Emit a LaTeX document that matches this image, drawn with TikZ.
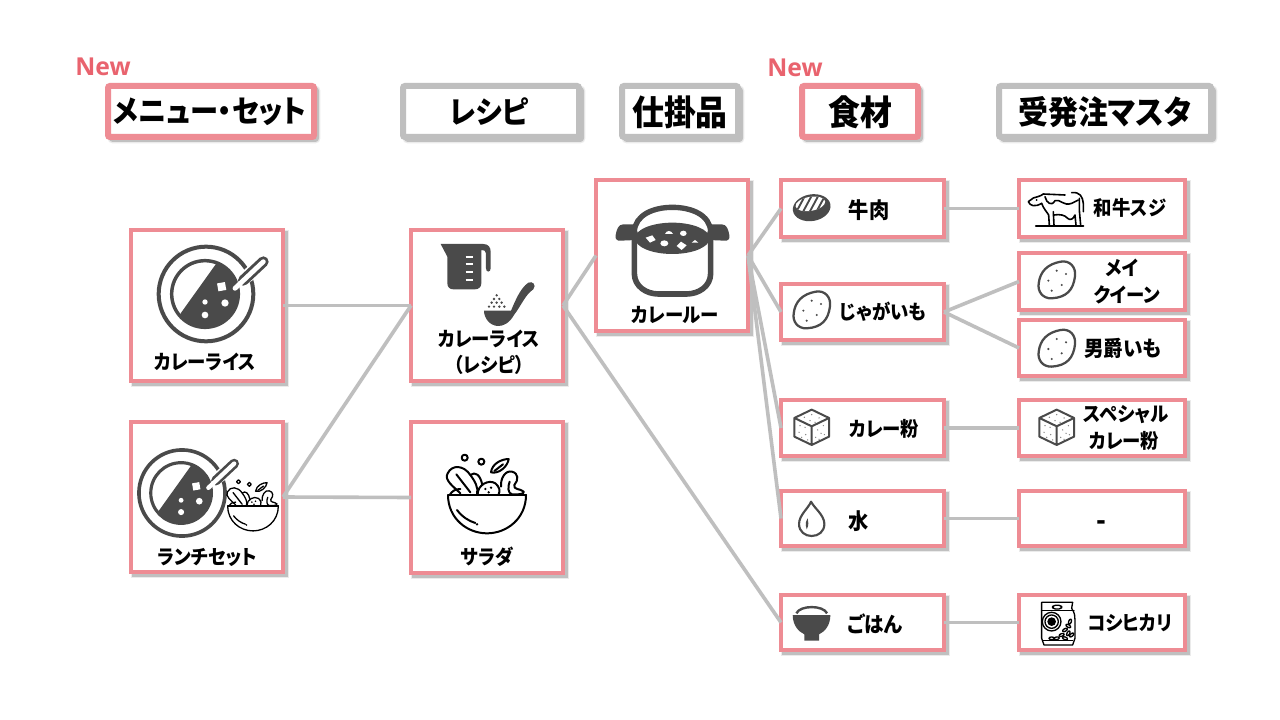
\documentclass[tikz,border=0pt]{standalone}
\usepackage{fontspec}
\setmainfont{Noto Sans CJK JP}[RawFeature=+palt,FakeStretch=0.92]
\newfontfamily\latinb{Open Sans}
\definecolor{pinkb}{HTML}{EE8C94}
\definecolor{grayb}{HTML}{BFBFBF}
\definecolor{newc}{HTML}{E9636E}
\definecolor{dk}{HTML}{4A4A4A}
\tikzset{
 basebox/.style={rectangle,fill=white,inner sep=0pt,outer sep=0pt,line width=3pt,
   preaction={draw=black,draw opacity=.08,fill=none,line width=5pt,transform canvas={shift={(3,3)}}},
   preaction={draw=black,draw opacity=.18,fill=none,line width=3pt,transform canvas={shift={(3,3)}}}},
 pinkbox/.style={basebox,draw=pinkb},
 headpink/.style={basebox,draw=pinkb,line width=4.5pt,rounded corners=1.5pt},
 headgray/.style={basebox,draw=grayb,line width=4.5pt,rounded corners=1.5pt},
 lab/.style={font=\bfseries\fontsize{15}{18}\selectfont,inner sep=0pt,text=black},
 labk/.style={lab,font=\bfseries\fontsize{16.5}{20}\selectfont},
 headlab/.style={font=\bfseries\fontsize{23}{28}\selectfont,inner sep=0pt,text=black},
 headk/.style={headlab,font=\bfseries\fontsize{26}{30}\selectfont},
 newlab/.style={font=\latinb\bfseries\fontsize{18.5}{22}\selectfont,inner sep=0pt,text=newc},
 conn/.style={draw=grayb,line width=2.7pt},
 ln/.style={draw=black,line width=1.4pt,line cap=round,line join=round},
 ld/.style={draw=dk,line width=1.9pt,line cap=round,line join=round},
}
\newcommand\bx[6][pinkbox]{%
 \pgfmathsetmacro\cxx{(#3+#5)/2}\pgfmathsetmacro\cyy{(#4+#6)/2}%
 \node[#1,minimum width={(#5-#3)*.75pt},minimum height={(#6-#4)*.75pt}] (#2) at (\cxx,\cyy) {};}
\newcommand\curry[3]{\begin{scope}[shift={(#1,#2)},scale=.3333*#3]
 \draw[dk,line width=#3*3pt] (0,0) circle (142);
 \begin{scope}\clip (-3,0) circle (100);
  \fill[dk] (37,-100) -- (-76,58) -- (-76,200) -- (200,200) -- (200,-100) -- cycle;
 \end{scope}
 \draw[dk,line width=#3*2.6pt] (-3,0) circle (100);
 \draw[white,line width=#3*10pt,line cap=round] (125,-55) -- (172,-97);
 \draw[dk,line width=#3*8pt,line cap=round] (112,-41) -- (172,-97);
 \draw[white,line width=#3*3.6pt,line cap=round] (87,-17) -- (172,-97);
 \fill[white,rotate around={10:(47,-22)}] (35,-34) rectangle (59,-10);
 \fill[white] (-3,24) circle (8) (57,27) circle (11) (-3,63) circle (10);
\end{scope}}
\newcommand\salad[3]{\begin{scope}[shift={(#1,#2)},scale=.3333*#3,draw=black,line width=#3*1.5pt,line cap=round,line join=round]
 \draw (-117,0) -- (117,0);
 \draw (-117,0) .. controls (-117,70) and (-60,115) .. (0,115) .. controls (60,115) and (117,70) .. (117,0);
 \draw (-90,45) .. controls (-75,65) and (-55,78) .. (-35,84);
 \fill (-30,88) circle (4);
 \draw (-80,-5) .. controls (-100,-25) and (-130,-45) .. (-118,-65) .. controls (-105,-92) and (-70,-90) .. (-50,-60) .. controls (-35,-40) and (-25,-20) .. (-30,-3);
 \draw (-92,-62) -- (-50,-8);
 \draw (-50,-60) .. controls (-35,-72) and (-20,-60) .. (-14,-30);
 \draw (-112,0) .. controls (-105,-12) and (-95,-18) .. (-80,-18);
 \draw (-28,-3) .. controls (-28,-30) and (5,-48) .. (25,-35) .. controls (38,-25) and (40,-10) .. (35,-3);
 \fill (-5,-18) circle (4) (12,-22) circle (4) (5,-8) circle (4);
 \draw (42,-25) .. controls (40,-50) and (55,-75) .. (75,-70) .. controls (95,-65) and (95,-45) .. (82,-30) .. controls (78,-15) and (100,-20) .. (110,-10);
 \draw (110,-10) .. controls (112,-5) and (100,0) .. (75,-2) .. controls (62,-5) and (62,-25) .. (68,-40);
 \draw (12,-68) .. controls (15,-95) and (45,-108) .. (65,-108) .. controls (62,-85) and (35,-62) .. (12,-68);
 \draw (22,-72) -- (48,-92);
 \draw (-67,-112) circle (9) (-17,-100) circle (9);
\end{scope}}
\newcommand\potato[2]{\begin{scope}[shift={(#1,#2)},scale=.3333]
 \draw[ld,line width=1.7pt] (12,-55) .. controls (40,-60) and (58,-38) .. (55,-12) .. controls (50,30) and (30,52) .. (-15,55) .. controls (-42,56) and (-58,35) .. (-54,10) .. controls (-50,-25) and (-28,-48) .. (12,-55) -- cycle;
 \fill[dk] (0,-28) circle (3.5) (28,-18) circle (3.5) (-25,2) circle (3.5) (15,15) circle (3.5) (-15,32) circle (3.5);
\end{scope}}
\newcommand\cube[2]{\begin{scope}[shift={(#1,#2)},scale=.3333]
 \draw[ld,line width=1.5pt] (0,-53) -- (52,-28) -- (52,28) -- (0,53) -- (-52,28) -- (-52,-28) -- cycle (-52,-28) -- (0,-3) -- (52,-28) (0,-3) -- (0,53);
 \foreach \p in {(-22,-30),(0,-38),(22,-28),(-5,-20),(10,-15),(-35,-5),(-20,0),(-38,15),(-18,22),(-30,30),(-12,38),(18,8),(35,-5),(28,18),(12,30),(38,22),(22,36)}
  \fill[gray] \p circle (2.2);
\end{scope}}
\begin{document}
\begin{tikzpicture}[x=.75pt,y=-.75pt]
\useasboundingbox (0,0) rectangle (1280,720);
\fill[white] (0,0) rectangle (1280,720);
% headers
\bx[headpink]{hm}{108}{86}{314}{137}
\bx[headgray]{hr}{403}{86}{579}{137}
\bx[headgray]{hw}{622}{86}{738}{137}
\bx[headpink]{hf}{802}{86}{918}{137}
\bx[headgray]{ho}{999}{86}{1211}{137}
\node[newlab] (n1) at (103,67) {New};
\node[newlab] (n2) at (795,68) {New};
\node[headlab] (thm) at (210,112) {メニュー・セット};
\node[headlab] (thr) at (489,112) {レシピ};
\node[headk] (thw) at (680,112) {仕掛品};
\node[headk] (thf) at (860,112) {食材};
\node[headlab,font=\bfseries\fontsize{24.4}{28}\selectfont] (tho) at (1105,112) {受発注マスタ};
% boxes
\bx{curry}{131}{230}{283}{381}
\bx{lunch}{131}{422}{283}{572}
\bx{recipe}{411}{230}{563}{381}
\bx{sal}{411}{422}{563}{573}
\bx{roux}{596}{180}{748}{331}
\bx{beef}{781}{180}{944}{237}
\bx{pot}{781}{284}{944}{340}
\bx{powd}{781}{400}{944}{456}
\bx{water}{781}{491}{944}{546}
\bx{rice}{781}{595}{944}{650}
\bx{wagyu}{1019}{180}{1185}{237}
\bx{may}{1019}{253}{1185}{310}
\bx{dan}{1019}{320}{1185}{376}
\bx{spc}{1019}{400}{1185}{456}
\bx{non}{1019}{491}{1185}{546}
\bx{koshi}{1019}{595}{1185}{650}
% connectors
\draw[conn] (curry.east) -- (recipe.west);
\draw[conn] (lunch.east) -- (recipe.west);
\draw[conn] (lunch.east) -- (sal.west);
\draw[conn] (recipe.east) -- (roux.west);
\draw[conn] (recipe.east) -- (rice.west);
\draw[conn] (roux.east) -- (beef.west);
\draw[conn] (roux.east) -- (pot.west);
\draw[conn] (roux.east) -- (powd.west);
\draw[conn] (roux.east) -- (water.west);
\draw[conn] (beef.east) -- (wagyu.west);
\draw[conn] (pot.east) -- (may.west);
\draw[conn] (pot.east) -- (dan.west);
\draw[conn] (powd.east) -- (spc.west);
\draw[conn] (water.east) -- (non.west);
\draw[conn] (rice.east) -- (koshi.west);
% labels
\node[lab] (t1) at (205,362) {カレーライス};
\node[lab] (t2) at (207,557) {ランチセット};
\node[lab] (t3) at (489,339) {カレーライス};
\node[lab] (t3b) at (489,365) {（レシピ）};
\node[lab] (t4) at (487,557) {サラダ};
\node[lab] (t5) at (675,315) {カレールー};
\node[labk] (t6) at (869,210) {牛肉};
\node[lab] (t7) at (883,312) {じゃがいも};
\node[lab] (t8) at (884,429) {カレー粉};
\node[labk] (t9) at (859,521) {水};
\node[lab,font=\bfseries\fontsize{16}{20}\selectfont] (t10) at (875,624) {ごはん};
\node[lab] (t11) at (1130,207.5) {和牛スジ};
\node[lab] (t12) at (1122,268) {メイ};
\node[lab] (t12b) at (1127,295) {クイーン};
\node[lab,font=\bfseries\fontsize{16}{20}\selectfont] (t13) at (1123,348) {男爵いも};
\node[lab] (t14) at (1126,415) {スペシャル};
\node[lab] (t14b) at (1124,441) {カレー粉};
\node[lab,font=\bfseries\fontsize{21}{24}\selectfont] (t15) at (1101,526) {-};
\node[lab] (t16) at (1130,623) {コシヒカリ};
% icons
\curry{206}{294}{1}
\curry{182}{493}{.91}
\salad{253}{506}{.65}
\salad{487}{495}{1}
% measuring cup
\begin{scope}[shift={(400,220)},scale=.3333]
 \fill[dk] (122,72) -- (250,72) .. controls (265,72) and (272,82) .. (272,95) -- (272,145) .. controls (272,158) and (258,158) .. (258,145) -- (258,100) .. controls (258,92) and (252,90) .. (244,90) -- (244,190) .. controls (244,202) and (235,208) .. (225,208) -- (160,208) .. controls (150,208) and (142,202) .. (142,190) -- (142,110) -- cycle;
 \foreach \yy in {110,133,157,181} \draw[white,line width=1.6pt] (197,\yy) -- (220,\yy);
 \fill[dk] (252,272) -- (333,272) .. controls (345,245) and (360,205) .. (385,188) .. controls (398,182) and (410,195) .. (400,208) .. controls (375,225) and (365,255) .. (342,285) .. controls (328,310) and (310,318) .. (295,318) .. controls (270,318) and (252,295) .. (252,272) -- cycle;
 \foreach \p in {(290,226),(282,237),(298,237),(275,248),(290,248),(305,248),(267,260),(282,260),(298,260),(313,260)} \fill[dk] \p circle (4);
\end{scope}
% pot
\begin{scope}[shift={(585,170)},scale=.3333]
 \draw[dk,line width=4.2pt] (148,200) -- (148,310) .. controls (148,350) and (185,372) .. (220,372) -- (305,372) .. controls (340,372) and (377,350) .. (377,310) -- (377,200);
 \draw[dk,line width=4pt] (148,185) .. controls (150,135) and (205,112) .. (262,112) .. controls (320,112) and (375,135) .. (377,185);
 \fill[dk] (92,195) .. controls (95,178) and (100,163) .. (115,163) -- (150,163) -- (165,210) .. controls (145,210) and (115,212) .. (100,212) .. controls (93,212) and (91,205) .. (92,195) -- cycle;
 \fill[dk] (433,195) .. controls (430,178) and (425,163) .. (410,163) -- (375,163) -- (360,210) .. controls (380,210) and (410,212) .. (425,212) .. controls (432,212) and (434,205) .. (433,195) -- cycle;
 \fill[dk] (262,205) ellipse (112 and 47);
 \fill[white] (182,203) -- (202,196) -- (212,210) -- (195,218) -- cycle;
 \fill[white] (240,192) .. controls (245,180) and (258,180) .. (264,192) -- cycle;
 \fill[white] (295,190) ellipse (10 and 8);
 \fill[white] (238,220) ellipse (12 and 9);
 \fill[white] (288,215) -- (305,226) -- (290,240) -- (275,228) -- cycle;
 \fill[white] (320,218) -- (330,210) -- (340,218) -- cycle;
\end{scope}
% steak
\begin{scope}[shift={(811.7,207.7)},scale=.3333]
 \fill[dk,rotate=10] (0,0) ellipse (57 and 40);
 \begin{scope}\clip[rotate=10] (-2,-12) ellipse (45 and 21);
  \fill[white] (-60,-40) rectangle (60,30);
  \foreach \xx in {-34,-14,6,26} \draw[dk,line width=1.4pt] (\xx-14,16) -- (\xx+14,-36);
 \end{scope}
\end{scope}
\potato{811.7}{310}
\potato{1056.7}{280}
\potato{1056.7}{348.3}
\cube{811.7}{427.3}
\cube{1056.7}{427.3}
% drop
\begin{scope}[shift={(811.7,520)},scale=.3333]
 \draw[ld,line width=1.6pt] (-2,-55) .. controls (-10,-35) and (-38,-15) .. (-38,12) .. controls (-38,35) and (-20,48) .. (0,48) .. controls (20,48) and (38,35) .. (38,12) .. controls (38,-15) and (8,-35) .. (-2,-55) -- cycle;
 \fill[dk] (-15,28) .. controls (-22,10) and (-15,0) .. (-12,-5) .. controls (-10,5) and (-8,15) .. (-15,28) -- cycle;
\end{scope}
% rice bowl
\begin{scope}[shift={(811.7,625)},scale=.3333]
 \draw[dk,line width=1.8pt] (-46,-35) .. controls (-35,-60) and (35,-60) .. (46,-35);
 \fill[dk] (-57,-30) -- (56,-30) .. controls (56,0) and (40,20) .. (22,28) -- (22,47) -- (-22,47) -- (-22,28) .. controls (-40,20) and (-57,0) .. (-57,-30) -- cycle;
\end{scope}
% cow
\begin{scope}[shift={(770,170)},scale=.3333,draw=black,line width=1.2pt,line cap=round,line join=round]
 \draw[line width=1.7pt] (798,168) -- (940,168);
 \draw (820,72) .. controls (810,80) and (800,80) .. (790,84) -- (775,95) .. controls (780,108) and (795,112) .. (815,100);
 \draw (815,100) .. controls (820,115) and (830,125) .. (836,135) -- (838,165);
 \draw (820,72) -- (885,75);
 \draw (905,68) .. controls (930,65) and (938,80) .. (940,100) -- (940,125);
 \draw (928,85) -- (928,120) -- (932,165);
 \draw (825,80) .. controls (830,100) and (845,110) .. (855,92) .. controls (870,85) and (880,110) .. (905,100) -- (925,90);
 \draw (850,125) -- (852,165);
 \draw (852,135) .. controls (870,132) and (885,135) .. (893,145) .. controls (900,152) and (910,148) .. (915,135) -- (918,165);
 \fill[black] (800,90) circle (3);
\end{scope}
% rice bag
\begin{scope}[shift={(770,390)},scale=.3333,draw=black,line width=1pt,line join=round,line cap=round]
 \draw (815,637) -- (908,637) -- (905,655) .. controls (915,670) and (915,680) .. (915,690) -- (915,745) -- (908,765) -- (822,765) -- (815,745) -- (815,670) -- cycle;
 \draw (815,662) -- (912,662);
 \draw[rounded corners=2pt] (848,646) rectangle (875,657);
 \draw (845,695) circle (28) (845,695) circle (20);
 \fill[black] (845,695) circle (13);
 \draw (820,752) -- (908,752);
 \foreach \xx/\yy/\a in {885/720/30,895/708/-30,875/735/20,895/730/60,860/745/10,885/745/-20,845/745/0,905/735/40,900/695/70}
  \draw[rotate around={\a:(\xx,\yy)}] (\xx,\yy) ellipse (8 and 4);
\end{scope}
\end{tikzpicture}
\end{document}
